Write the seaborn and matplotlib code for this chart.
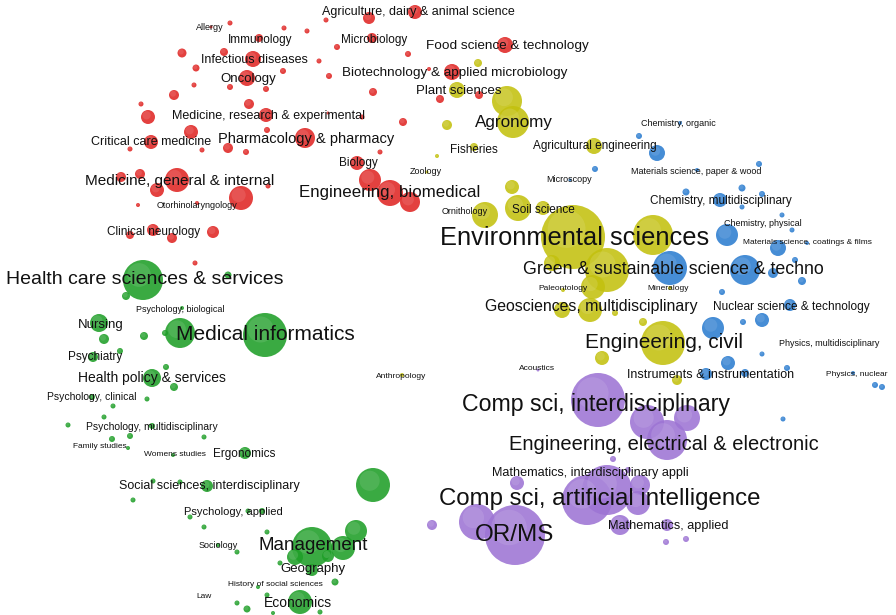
import matplotlib
matplotlib.use("Agg")
import matplotlib.pyplot as plt
import matplotlib.colors as mcolors
import pandas as pd
import seaborn as sns

# Map coordinates (x, y) and node weight (bubble radius) per research cluster
medicine_nodes = [
    (369, 18, 6), (415, 12, 7), (230, 23, 2.5), (211, 27, 1.5), (284, 28, 2.5),
    (307, 31, 2.5), (326, 20, 2.5), (259, 38, 4), (372, 38, 5), (337, 47, 3),
    (408, 54, 3), (505, 45, 8), (182, 53, 4.5), (224, 52, 4), (253, 59, 8),
    (319, 61, 2.5), (196, 68, 3.5), (283, 71, 3), (329, 76, 3), (247, 78, 8),
    (194, 85, 2.5), (230, 87, 3), (266, 89, 3), (373, 92, 4), (452, 72, 8),
    (429, 69, 2), (440, 99, 4), (479, 95, 4), (174, 95, 5), (141, 104, 2.5),
    (249, 104, 5), (266, 115, 7), (148, 117, 7), (362, 117, 2.5), (328, 113, 1.5),
    (403, 122, 4), (191, 132, 7), (267, 130, 3), (305, 138, 10), (151, 142, 7),
    (130, 149, 2.5), (202, 150, 2.5), (228, 148, 5), (246, 152, 3), (380, 152, 2.5),
    (357, 163, 7), (121, 177, 5), (140, 174, 5), (177, 180, 12), (157, 190, 7),
    (241, 198, 12), (268, 186, 2.5), (138, 205, 2), (197, 203, 2), (153, 230, 6),
    (130, 235, 4), (172, 238, 5), (213, 232, 6), (195, 263, 2.5), (370, 180, 11),
    (390, 193, 13), (410, 202, 10),
]
environment_nodes = [
    (478, 63, 4), (457, 90, 8), (507, 101, 15), (513, 122, 16), (447, 125, 5),
    (474, 147, 4), (437, 156, 2), (594, 146, 8), (427, 172, 1.5), (512, 187, 7),
    (485, 215, 13), (518, 208, 13), (543, 208, 7), (573, 237, 32), (607, 270, 22),
    (653, 235, 20), (593, 287, 12), (552, 263, 8), (563, 290, 2), (670, 288, 2),
    (562, 310, 8), (590, 310, 12), (615, 313, 3), (643, 322, 4), (663, 343, 22),
    (602, 358, 7), (677, 380, 5), (402, 375, 2),
]
physics_nodes = [
    (680, 123, 2), (639, 136, 3), (657, 153, 8), (595, 169, 3), (570, 180, 1.5),
    (697, 170, 2), (759, 164, 3), (686, 192, 3.5), (720, 200, 7), (742, 188, 3.5),
    (762, 194, 3), (742, 207, 2.5), (782, 215, 2.5), (792, 230, 2.5), (727, 235, 11),
    (778, 248, 8), (807, 243, 2), (670, 268, 17), (745, 270, 15), (773, 273, 5),
    (795, 260, 3), (802, 281, 4), (722, 292, 3), (790, 305, 6), (762, 320, 7),
    (743, 322, 3), (713, 328, 11), (728, 363, 7), (706, 374, 6), (745, 373, 4),
    (762, 354, 2.5), (787, 368, 3), (853, 373, 2), (875, 385, 3), (882, 387, 3),
    (783, 419, 2.5),
]
computing_nodes = [
    (598, 400, 27), (647, 422, 17), (687, 418, 13), (667, 440, 20), (613, 459, 3),
    (517, 483, 7), (628, 470, 3), (587, 500, 25), (607, 490, 25), (638, 503, 12),
    (640, 485, 10), (620, 525, 10), (477, 522, 18), (515, 535, 30), (432, 525, 5),
    (667, 525, 6), (666, 542, 3), (686, 539, 3), (538, 370, 1.5),
]
social_nodes = [
    (143, 280, 20), (228, 275, 3.5), (126, 296, 4), (182, 308, 2), (99, 323, 9),
    (104, 339, 5), (144, 336, 4), (165, 333, 3), (180, 333, 15), (265, 335, 22),
    (93, 357, 5), (120, 351, 3), (152, 378, 9), (166, 367, 3), (174, 387, 4),
    (92, 397, 3), (147, 399, 2.5), (113, 406, 2.5), (104, 417, 2.5), (68, 425, 2.5),
    (152, 426, 3), (130, 436, 3), (112, 439, 3), (204, 437, 2.5), (128, 448, 2),
    (173, 455, 2), (245, 453, 6), (373, 485, 17), (153, 481, 2.5), (180, 482, 2.5),
    (207, 486, 6), (133, 500, 2.5), (248, 511, 2.5), (262, 511, 3), (190, 517, 2.5),
    (204, 527, 2.5), (267, 532, 2.5), (356, 531, 11), (312, 547, 20), (295, 557, 8),
    (343, 548, 12), (328, 556, 6), (280, 563, 2.5), (312, 570, 6), (237, 552, 2.5),
    (218, 545, 2), (335, 582, 3.5), (258, 587, 2), (267, 595, 2.5), (237, 603, 2.5),
    (247, 609, 3.5), (300, 602, 12), (320, 612, 2.5), (273, 613, 2),
]

cluster_colors = {
    "Medicine": "#e02624",
    "Environment": "#c3c10f",
    "Physics": "#2c7dd0",
    "Computing": "#9d74d4",
    "Social": "#1f9f28",
}

# Subject category labels: text, x, y, font size
labels = [
    ("Agriculture, dairy & animal science", 418, 12, 9),
    ("Allergy", 210, 27, 6.5),
    ("Immunology", 260, 40, 8.5),
    ("Microbiology", 374, 40, 8.5),
    ("Food science & technology", 507, 46, 9.7),
    ("Infectious diseases", 254, 60, 9),
    ("Oncology", 248, 79, 9.5),
    ("Biotechnology & applied microbiology", 455, 73, 9.7),
    ("Plant sciences", 459, 91, 9.5),
    ("Agronomy", 514, 122, 12.3),
    ("Medicine, research & experimental", 269, 116, 9),
    ("Critical care medicine", 151, 142, 9),
    ("Pharmacology & pharmacy", 306, 139, 10.5),
    ("Fisheries", 474, 150, 8.5),
    ("Agricultural engineering", 595, 146, 8.5),
    ("Chemistry, organic", 678, 123, 6.5),
    ("Biology", 358, 163, 8.5),
    ("Zoology", 426, 172, 6.5),
    ("Materials science, paper & wood", 696, 171, 6.5),
    ("Microscopy", 569, 180, 6.5),
    ("Medicine, general & internal", 180, 181, 11),
    ("Otorhinolaryngology", 197, 205, 6.5),
    ("Engineering, biomedical", 390, 193, 12.2),
    ("Chemistry, multidisciplinary", 721, 201, 8.5),
    ("Ornithology", 465, 212, 6.5),
    ("Soil science", 543, 210, 8.5),
    ("Chemistry, physical", 763, 224, 6.5),
    ("Materials science, coatings & films", 807, 242, 6),
    ("Clinical neurology", 154, 232, 8.5),
    ("Environmental sciences", 575, 238, 18.3),
    ("Green & sustainable science & techno", 673, 270, 12.8),
    ("Health care sciences & services", 145, 280, 14),
    ("Paleontology", 563, 289, 6),
    ("Mineralogy", 668, 289, 6),
    ("Psychology, biological", 180, 309, 6.5),
    ("Geosciences, multidisciplinary", 591, 307, 11.4),
    ("Nuclear science & technology", 791, 307, 8.6),
    ("Nursing", 101, 325, 9.5),
    ("Medical informatics", 265, 335, 15),
    ("Engineering, civil", 664, 343, 15),
    ("Physics, multidisciplinary", 829, 344, 6.5),
    ("Psychiatry", 95, 357, 8.5),
    ("Anthropology", 401, 376, 6),
    ("Acoustics", 537, 369, 6),
    ("Health policy & services", 152, 378, 10),
    ("Instruments & instrumentation", 711, 375, 9),
    ("Physics, nuclear", 857, 374, 6),
    ("Psychology, clinical", 92, 397, 7.5),
    ("Comp sci, interdisciplinary", 596, 405, 16.7),
    ("Psychology, multidisciplinary", 152, 427, 7.5),
    ("Engineering, electrical & electronic", 664, 445, 14.5),
    ("Family studies", 100, 447, 6),
    ("Womens studies", 175, 455, 6),
    ("Ergonomics", 244, 454, 8.5),
    ("Mathematics, interdisciplinary appli", 590, 473, 9.1),
    ("Social sciences, interdisciplinary", 209, 486, 9),
    ("Comp sci, artificial intelligence", 600, 499, 17.3),
    ("Psychology, applied", 233, 512, 8),
    ("Mathematics, applied", 668, 526, 9.2),
    ("OR/MS", 515, 535, 17.5),
    ("Sociology", 218, 546, 6.5),
    ("Management", 313, 546, 13.5),
    ("Geography", 313, 569, 9.5),
    ("History of social sciences", 275, 585, 6),
    ("Law", 204, 596, 6),
    ("Economics", 298, 603, 10),
]

groups = {
    "Medicine": medicine_nodes,
    "Environment": environment_nodes,
    "Physics": physics_nodes,
    "Computing": computing_nodes,
    "Social": social_nodes,
}
rows = []
for name, nodes in groups.items():
    for x, y, r in nodes:
        rows.append({"x": x, "y": y, "r": r, "weight": r * r, "cluster": name})
nodes_df = pd.DataFrame(rows).sort_values("weight", ascending=False)

W, H, DPI = 896, 615, 100
fig = plt.figure(figsize=(W / DPI, H / DPI), dpi=DPI)
ax = fig.add_axes([0, 0, 1, 1])

# marker area in pt^2 for a radius given in pixels at this dpi
k = (2 * 72 / DPI) ** 2
wmin, wmax = nodes_df["weight"].min(), nodes_df["weight"].max()
sns.scatterplot(
    data=nodes_df, x="x", y="y", hue="cluster", size="weight",
    palette=cluster_colors, sizes=(wmin * k, wmax * k), size_norm=(wmin, wmax),
    alpha=0.88, edgecolor="none", linewidth=0, legend=False, ax=ax, zorder=2,
)

# soft highlight on each sphere, shifted slightly toward the upper left
light_colors = {
    name: tuple(0.55 * c + 0.45 for c in mcolors.to_rgb(col))
    for name, col in cluster_colors.items()
}
hl = nodes_df.assign(x=nodes_df["x"] - 0.2 * nodes_df["r"],
                     y=nodes_df["y"] - 0.25 * nodes_df["r"],
                     weight=nodes_df["weight"] * 0.35)
sns.scatterplot(
    data=hl, x="x", y="y", hue="cluster", size="weight",
    palette=light_colors, sizes=(wmin * 0.35 * k, wmax * 0.35 * k),
    size_norm=(wmin * 0.35, wmax * 0.35),
    alpha=0.28, edgecolor="none", linewidth=0, legend=False, ax=ax, zorder=3,
)

for text, x, y, fs in labels:
    ax.text(x, y, text, fontsize=fs, ha="center", va="center", zorder=5,
            family=["Liberation Sans", "DejaVu Sans"], color="#111111")

ax.set_xlim(0, W)
ax.set_ylim(H, 0)
ax.axis("off")
fig.savefig("out.png", dpi=DPI, facecolor="white")
